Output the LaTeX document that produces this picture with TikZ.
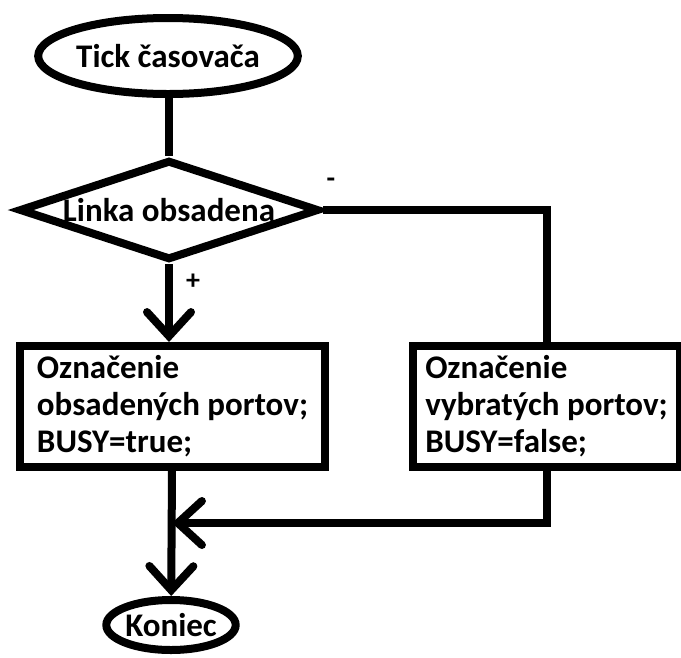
\documentclass[tikz,border=0pt]{standalone}
\usepackage{fontspec}
\setmainfont{Carlito}
\usetikzlibrary{shapes.geometric,arrows.meta}

\tikzset{
	term/.style={draw, ellipse, line width=8pt, font=\bfseries\fontsize{33}{37}\selectfont, inner sep=0pt},
	decision/.style={draw, diamond, aspect=2.9, line width=8pt, font=\bfseries\fontsize{33}{37}\selectfont, inner sep=0pt},
	process/.style={draw, rectangle, line width=8pt, font=\bfseries\fontsize{33}{37}\selectfont, align=left, anchor=north west, inner xsep=4pt, inner ysep=4pt},
	flow/.style={line width=8pt},
	flowarrow/.style={line width=8pt, -{Straight Barb[length=24pt, width=44pt, line cap=round]}},
}

\begin{document}
\begin{tikzpicture}[x=1pt, y=-1pt]
			%%%%% START %%%%%
			
			\useasboundingbox (0, 0) rectangle (681, 657);
			
			\node[term, minimum width=222, minimum height=76] (start) at (168, 56) {Tick časovača};
			\node[decision, minimum width=300, minimum height=100] (test) at (169, 210) {Linka obsadena};
			
			\node[process, minimum width=305, minimum height=121] (busy) at (16, 342) {Označenie\\obsadených portov;\\BUSY=true;};
			\node[process, minimum width=267, minimum height=121] (free) at (409, 342) {Označenie\\vybratých portov;\\BUSY=false;};
			
			\node[term, minimum width=127, minimum height=50] (end) at (171, 625) {Koniec};
			
			\coordinate (join) at (172, 523);
			
			\draw[flow] (start.south -| test) -- (test);
			\draw[flowarrow] (test) -- (busy.north -| test);
			\draw[flow] (test.east) -| (free.north -| 547, 0);
			\draw[flowarrow] (free.south -| 547, 0) |- (join);
			\draw[flowarrow] (busy.south -| join) -- (end);
			
			\node[font=\bfseries\fontsize{28}{30}\selectfont] (neg) at (331, 183) {-};
			\node[font=\bfseries\fontsize{28}{30}\selectfont] (pos) at (193, 282) {+};
			
			%%%%% END %%%%%
		\end{tikzpicture}
\end{document}
